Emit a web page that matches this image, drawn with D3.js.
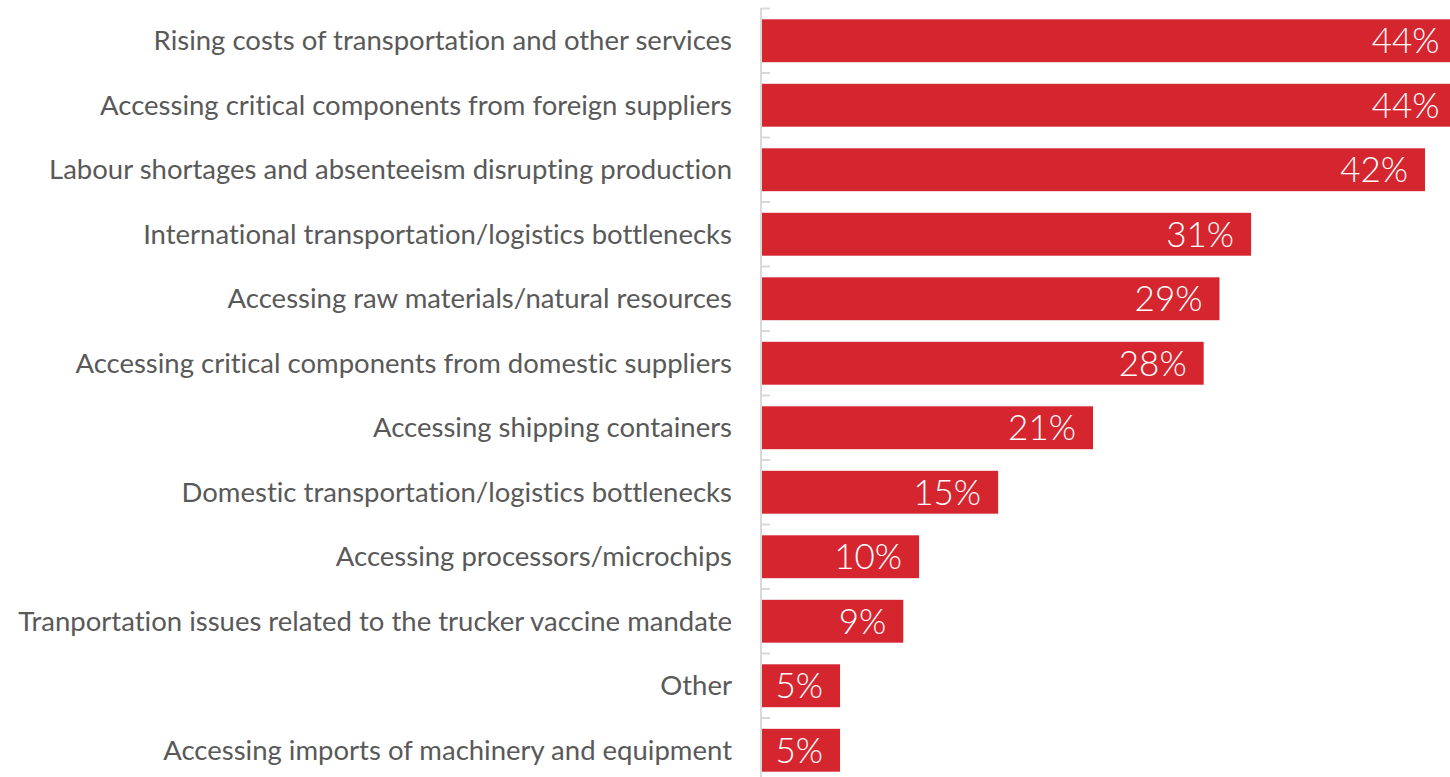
<!DOCTYPE html>
<html>
<head>
<meta charset="utf-8">
<script src="https://cdn.jsdelivr.net/npm/d3@7"></script>
<style>
  html, body { margin: 0; padding: 0; background: #fff; }
  svg { display: block; }
  text { font-variant-ligatures: none; }
</style>
</head>
<body>
<svg id="chart" width="1450" height="777"></svg>
<script>
// Supply-chain challenges, share of respondents (%)
const categories = [
  "Rising costs of transportation and other services",
  "Accessing critical components from foreign suppliers",
  "Labour shortages and absenteeism disrupting production",
  "International transportation/logistics bottlenecks",
  "Accessing raw materials/natural resources",
  "Accessing critical components from domestic suppliers",
  "Accessing shipping containers",
  "Domestic transportation/logistics bottlenecks",
  "Accessing processors/microchips",
  "Tranportation issues related to the trucker vaccine mandate",
  "Other",
  "Accessing imports of machinery and equipment"
];
const values = [44, 44, 42, 31, 29, 28, 21, 15, 10, 9, 5, 5];

const svg = d3.select("#chart");
const axisX = 761;
const pxPerPoint = 15.81;
const plotTop = 8.5, step = 64.5;

const x = d3.scaleLinear().domain([0, 50]).range([axisX, axisX + 50 * pxPerPoint]);
const y = d3.scaleBand()
  .domain(categories)
  .range([plotTop, plotTop + step * categories.length])
  .paddingInner(0.335)
  .paddingOuter(0.1675);

const data = categories.map((c, i) => ({ cat: c, val: values[i] }));

// bars
svg.append("g").selectAll("rect")
  .data(data)
  .join("rect")
  .attr("x", x(0))
  .attr("y", d => y(d.cat))
  .attr("width", d => x(d.val) - x(0))
  .attr("height", y.bandwidth())
  .attr("fill", "#d52630");

// category axis: vertical rule with ticks between bands
const axisG = svg.append("g");
axisG.append("line")
  .attr("x1", axisX).attr("x2", axisX)
  .attr("y1", plotTop - 0.5).attr("y2", plotTop + step * categories.length)
  .attr("stroke", "#d9d9d9").attr("stroke-width", 2);
const boundaries = d3.range(categories.length + 1).map(i => plotTop + i * step);
axisG.selectAll("line.tick")
  .data(boundaries)
  .join("line")
  .attr("class", "tick")
  .attr("x1", axisX).attr("x2", axisX + 9)
  .attr("y1", d => d).attr("y2", d => d)
  .attr("stroke", "#d9d9d9").attr("stroke-width", 2);

// category labels
const labels = svg.append("g").selectAll("text")
  .data(data)
  .join("text")
  .attr("x", axisX - 29)
  .attr("y", d => y(d.cat) + y.bandwidth() / 2)
  .attr("dy", "0.35em")
  .attr("text-anchor", "end")
  .attr("fill", "#595959")
  .style("font-family", "Lato, 'Open Sans', sans-serif")
  .style("font-size", "24px")
  .text(d => d.cat);

// size the label font so the longest label spans the available width
let maxW = 0;
labels.each(function () { maxW = Math.max(maxW, this.getComputedTextLength()); });
labels.style("font-size", (24 * 714 / maxW) + "px");

// value labels inside the bar ends
svg.append("g").selectAll("text")
  .data(data)
  .join("text")
  .attr("x", d => x(d.val) - 17)
  .attr("y", d => y(d.cat) + y.bandwidth() / 2)
  .attr("dy", "0.36em")
  .attr("text-anchor", "end")
  .attr("fill", "#ffffff")
  .style("font-family", "Lato, 'Open Sans', sans-serif")
  .style("font-weight", 300)
  .style("font-size", "35px")
  .text(d => d.val + "%");
</script>
</body>
</html>
